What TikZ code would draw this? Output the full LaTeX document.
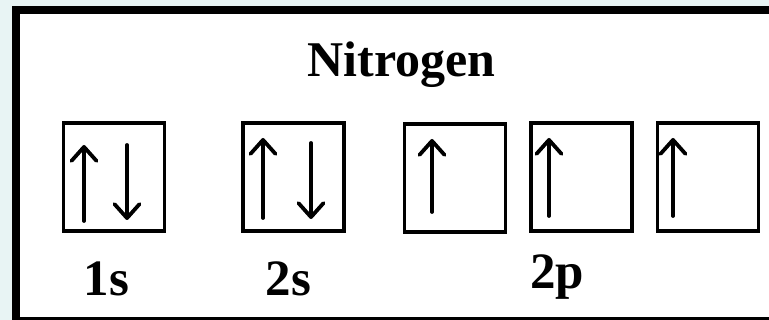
\documentclass[tikz,border=0pt]{standalone}
\usepackage{fontspec}
\setmainfont{Liberation Serif}
\usetikzlibrary{arrows.meta}
\definecolor{paper}{HTML}{E8F4F4}
\tikzset{
  orbital/.style={draw=black, line width=3.8pt, minimum width=101pt, minimum height=108pt, inner sep=0pt},
  spin/.style={line width=3.8pt, line cap=round, -{Straight Barb[length=14pt, width=25pt, round]}},
  title/.style={font=\fontsize{50}{50}\selectfont\bfseries, anchor=base, inner sep=0pt},
  shell/.style={font=\fontsize{51}{51}\selectfont\bfseries, anchor=base, inner sep=0pt}
}
\begin{document}
\begin{tikzpicture}[x=1pt, y=-1pt]
  \useasboundingbox (0,0) rectangle (769,320);
  \begin{scope}
    \clip (0,0) rectangle (769,320);
    \fill[paper] (0,0) rectangle (769,320);
    % heavy frame, open to the right and bottom
    \fill[black] (12,6) rectangle (800,320);
    \fill[white] (20,14) rectangle (800,317.5);
  \end{scope}

  \node[title] (name) at (401.5,77) {Nitrogen};

  % orbital boxes
  \node[orbital] (o1s) at (114,177) {};
  \node[orbital] (o2s) at (293.5,177) {};
  \node[orbital] (o2px) at (455,178) {};
  \node[orbital] (o2py) at (581.5,177) {};
  \node[orbital] (o2pz) at (708,177) {};

  % electron spins
  \coordinate (a1) at (84,221);  \coordinate (b1) at (84,145);
  \coordinate (a2) at (127,145); \coordinate (b2) at (127,220);
  \coordinate (a3) at (263,218); \coordinate (b3) at (263,138);
  \coordinate (a4) at (311,143); \coordinate (b4) at (311,219);
  \coordinate (a5) at (432,212); \coordinate (b5) at (432,139);
  \coordinate (a6) at (549,216); \coordinate (b6) at (549,138);
  \coordinate (a7) at (673,216); \coordinate (b7) at (673,138);
  \foreach \i in {1,...,7} {\draw[spin] (a\i) -- (b\i);}

  % shell labels
  \node[shell] (l1s) at (106.5,296) {1s};
  \node[shell] (l2s) at (288.5,296) {2s};
  \node[shell] (l2p) at (557,289) {2p};
\end{tikzpicture}
\end{document}
